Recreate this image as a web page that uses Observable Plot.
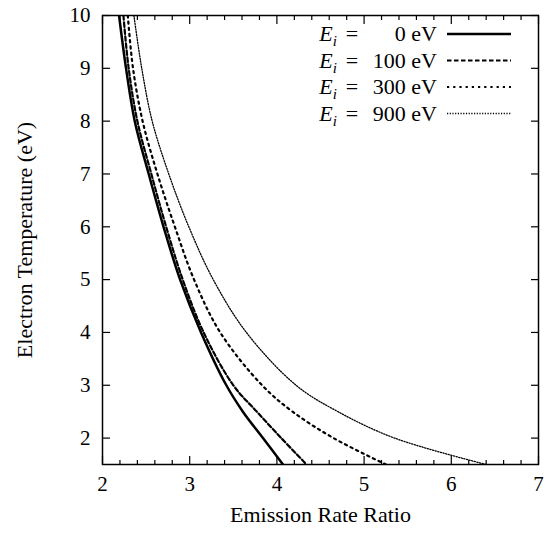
<!DOCTYPE html>
<html><head><meta charset="utf-8">
<script src="https://cdn.jsdelivr.net/npm/d3@7"></script>
<script src="https://cdn.jsdelivr.net/npm/@observablehq/plot@0.6"></script>
<style>body{margin:0;background:#fff} svg{font-family:"Liberation Serif","Times New Roman",serif}</style>
</head><body><div id="chart"></div>
<script>
// Electron temperature (eV) at which each curve was read
const temperature = [10, 9, 8, 7, 6, 5, 4, 3, 2.5, 2, 1.5];
// Emission rate ratio for each incident energy E_i
const ratio0   = [2.19, 2.27, 2.37, 2.53, 2.70, 2.89, 3.13, 3.42, 3.61, 3.84, 4.07];
const ratio100 = [2.24, 2.30, 2.40, 2.56, 2.73, 2.92, 3.16, 3.50, 3.77, 4.05, 4.34];
const ratio300 = [2.29, 2.35, 2.46, 2.63, 2.83, 3.05, 3.35, 3.83, 4.18, 4.65, 5.25];
const ratio900 = [2.36, 2.45, 2.57, 2.76, 2.99, 3.27, 3.65, 4.22, 4.70, 5.35, 6.40];
const energies = ["0", "100", "300", "900"];
const xTicks = [2, 3, 4, 5, 6, 7];
const xMinorTicks = [2.2, 2.4, 2.6, 2.8, 3.2, 3.4, 3.6, 3.8, 4.2, 4.4, 4.6, 4.8, 5.2, 5.4, 5.6, 5.8, 6.2, 6.4, 6.6, 6.8];
const yTicks = [2, 3, 4, 5, 6, 7, 8, 9, 10];
const xLabel = "Emission Rate Ratio";
const yLabel = "Electron Temperature (eV)";

const styles = [
  {strokeWidth: 2.5, strokeDasharray: null},
  {strokeWidth: 2.2, strokeDasharray: "4.5,2.5"},
  {strokeWidth: 2.2, strokeDasharray: "2.2,4"},
  {strokeWidth: 1.3, strokeDasharray: "1.2,1.5"}
];
const ratios = [ratio0, ratio100, ratio300, ratio900];
const series = ratios.map((rs, k) => temperature.map((t, i) => ({t, r: rs[i], e: energies[k]})));

const fs = "Liberation Serif";
const noText = () => "";
const intText = d => String(d);
const tickMarks = (axis, anchor, ticks, size) =>
  axis({anchor, ticks, tickSize: size, tickFormat: noText, label: null, strokeWidth: 1.2, stroke: "#000"});

const chart = Plot.plot({
  width: 550, height: 534,
  marginLeft: 102, marginRight: 12, marginTop: 15, marginBottom: 70,
  style: {fontFamily: fs, background: "#fff"},
  x: {domain: [2, 7]},
  y: {domain: [1.5, 10]},
  marks: [
    ...series.map((d, k) => Plot.line(d, {x: "r", y: "t", curve: "catmull-rom", stroke: "#000", clip: true, ...styles[k]})),
    tickMarks(Plot.axisX, "bottom", xTicks, -8),
    tickMarks(Plot.axisX, "bottom", xMinorTicks, -4),
    tickMarks(Plot.axisX, "top", xTicks, -8),
    tickMarks(Plot.axisX, "top", xMinorTicks, -4),
    tickMarks(Plot.axisY, "left", yTicks, -8),
    tickMarks(Plot.axisY, "right", yTicks, -8),
    Plot.axisX({anchor: "bottom", ticks: xTicks, tickFormat: intText, tickSize: 0, tickPadding: 12, fontSize: 21, fill: "#000", label: null}),
    Plot.axisY({anchor: "left", ticks: yTicks, tickFormat: intText, tickSize: 0, tickPadding: 12, fontSize: 21, fill: "#000", label: null}),
    Plot.frame({stroke: "#000", strokeWidth: 1.5}),
    Plot.text([xLabel], {frameAnchor: "bottom", textAnchor: "middle", dy: 57, fontSize: 22, fill: "#000"}),
    Plot.text([yLabel], {frameAnchor: "left", textAnchor: "middle", dx: -78, rotate: -90, fontSize: 22, fill: "#000"})
  ]
});
document.getElementById("chart").appendChild(chart);

// Legend (inside top-right of the frame)
const svg = d3.select(chart);
const leg = svg.append("g").attr("font-family", fs).attr("font-size", 22).attr("fill", "#000");
energies.forEach((e, i) => {
  const y = 34 + i * 26.5;
  const t = leg.append("text").attr("x", 328).attr("y", y + 7);
  t.append("tspan").attr("font-style", "italic").text("E");
  t.append("tspan").attr("font-style", "italic").attr("font-size", 15).attr("dy", 5).text("i");
  leg.append("text").attr("x", 352).attr("y", y + 7).text("=");
  leg.append("text").attr("x", 437).attr("y", y + 7).attr("text-anchor", "end").text(`${e} eV`);
  leg.append("line").attr("x1", 447).attr("x2", 511).attr("y1", y).attr("y2", y)
    .attr("stroke", "#000").attr("stroke-width", styles[i].strokeWidth)
    .attr("stroke-dasharray", styles[i].strokeDasharray);
});
</script></body></html>
